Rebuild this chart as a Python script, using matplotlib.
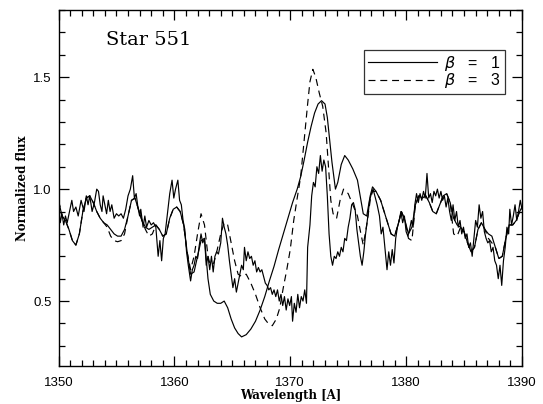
import matplotlib
matplotlib.use("Agg")
import matplotlib.pyplot as plt
from matplotlib.ticker import MultipleLocator

# --- dati ---
# spettro osservato (rumoroso)
obs_wave = [1350.0, 1350.15, 1350.3, 1350.45, 1350.6, 1350.75, 1350.95, 1351.15, 1351.3, 1351.5,
            1351.7, 1351.95, 1352.2, 1352.4, 1352.55, 1352.7, 1352.9, 1353.1, 1353.3, 1353.45,
            1353.6, 1353.75, 1353.85, 1354.0, 1354.15, 1354.3, 1354.45, 1354.6, 1354.8, 1355.0,
            1355.2, 1355.4, 1355.6, 1355.8, 1356.0, 1356.2, 1356.4, 1356.55, 1356.7, 1356.85,
            1357.0, 1357.1, 1357.3, 1357.45, 1357.6, 1357.8, 1358.0, 1358.2, 1358.4, 1358.6,
            1358.75, 1358.9, 1359.05, 1359.2, 1359.4, 1359.6, 1359.8, 1359.95, 1360.1, 1360.3,
            1360.45, 1360.6, 1360.75, 1360.9, 1361.05, 1361.2, 1361.4, 1361.55, 1361.7, 1361.85,
            1362.0, 1362.15, 1362.3, 1362.45, 1362.6, 1362.75, 1362.9, 1363.05, 1363.2, 1363.35,
            1363.5, 1363.65, 1363.8, 1364.0, 1364.15, 1364.3, 1364.45, 1364.6, 1364.75, 1364.9,
            1365.05, 1365.2, 1365.35, 1365.5, 1365.65, 1365.8, 1365.95, 1366.05, 1366.2, 1366.35,
            1366.5, 1366.65, 1366.8, 1366.95, 1367.1, 1367.25, 1367.4, 1367.55, 1367.7, 1367.85,
            1368.0, 1368.15, 1368.3, 1368.45, 1368.6, 1368.75, 1368.9, 1369.05, 1369.2, 1369.35,
            1369.5, 1369.65, 1369.8, 1369.95, 1370.1, 1370.2, 1370.35, 1370.5, 1370.65, 1370.8,
            1370.95, 1371.1, 1371.25, 1371.4, 1371.5, 1371.7, 1371.85, 1372.0, 1372.15, 1372.3,
            1372.45, 1372.6, 1372.75, 1372.9, 1373.05, 1373.2, 1373.35, 1373.5, 1373.65, 1373.8,
            1373.95, 1374.1, 1374.25, 1374.4, 1374.55, 1374.7, 1374.85, 1375.0, 1375.15, 1375.3,
            1375.45, 1375.6, 1375.75, 1375.9, 1376.05, 1376.2, 1376.35, 1376.5, 1376.7, 1376.85,
            1377.0, 1377.15, 1377.3, 1377.5, 1377.7, 1377.85, 1378.0, 1378.2, 1378.35, 1378.5,
            1378.65, 1378.8, 1378.95, 1379.1, 1379.25, 1379.4, 1379.55, 1379.7, 1379.85, 1380.0,
            1380.15, 1380.3, 1380.45, 1380.6, 1380.75, 1380.9, 1381.05, 1381.2, 1381.35, 1381.5,
            1381.65, 1381.8, 1381.95, 1382.1, 1382.25, 1382.4, 1382.55, 1382.7, 1382.85, 1383.0,
            1383.15, 1383.3, 1383.45, 1383.6, 1383.75, 1383.9, 1384.05, 1384.2, 1384.35, 1384.5,
            1384.65, 1384.8, 1384.95, 1385.1, 1385.25, 1385.4, 1385.55, 1385.7, 1385.85, 1386.0,
            1386.15, 1386.3, 1386.45, 1386.6, 1386.75, 1386.9, 1387.05, 1387.2, 1387.35, 1387.5,
            1387.65, 1387.8, 1387.95, 1388.1, 1388.25, 1388.4, 1388.55, 1388.7, 1388.85, 1388.95,
            1389.1, 1389.25, 1389.4, 1389.55, 1389.7, 1389.85, 1390.0]
obs_flux = [0.94, 0.85, 0.89, 0.84, 0.88, 0.85, 0.90, 0.95, 0.90, 0.92,
            0.88, 0.95, 0.90, 0.97, 0.93, 0.97, 0.90, 0.94, 1.00, 0.99,
            0.93, 0.90, 0.97, 0.93, 0.89, 0.95, 0.90, 0.93, 0.87, 0.89,
            0.88, 0.89, 0.87, 0.91, 0.97, 1.00, 1.06, 0.96, 0.98, 0.92,
            0.88, 0.91, 0.83, 0.88, 0.83, 0.86, 0.84, 0.85, 0.83, 0.70,
            0.77, 0.68, 0.78, 0.80, 0.89, 0.98, 1.04, 0.96, 1.00, 1.04,
            0.95, 0.93, 0.86, 0.82, 0.72, 0.66, 0.59, 0.64, 0.66, 0.70,
            0.69, 0.75, 0.80, 0.76, 0.78, 0.66, 0.70, 0.64, 0.70, 0.63,
            0.70, 0.72, 0.71, 0.76, 0.87, 0.83, 0.80, 0.75, 0.68, 0.62,
            0.56, 0.60, 0.54, 0.58, 0.62, 0.66, 0.64, 0.74, 0.68, 0.72,
            0.69, 0.70, 0.66, 0.68, 0.63, 0.65, 0.63, 0.64, 0.61, 0.58,
            0.57, 0.55, 0.56, 0.53, 0.55, 0.52, 0.55, 0.50, 0.53, 0.48,
            0.52, 0.46, 0.51, 0.48, 0.52, 0.41, 0.49, 0.45, 0.53, 0.47,
            0.52, 0.50, 0.55, 0.49, 0.74, 0.84, 0.97, 1.03, 1.01, 1.10,
            1.07, 1.15, 1.08, 1.13, 1.10, 0.97, 0.80, 0.70, 0.66, 0.70,
            0.69, 0.72, 0.70, 0.74, 0.72, 0.78, 0.77, 0.83, 0.87, 0.93,
            0.94, 0.91, 0.82, 0.76, 0.70, 0.66, 0.72, 0.80, 0.88, 0.95,
            0.98, 1.00, 0.97, 0.93, 0.88, 0.80, 0.83, 0.72, 0.64, 0.72,
            0.66, 0.73, 0.67, 0.78, 0.83, 0.86, 0.90, 0.85, 0.88, 0.81,
            0.79, 0.82, 0.86, 0.83, 0.93, 0.98, 0.94, 0.98, 0.95, 0.99,
            0.96, 1.07, 0.96, 0.98, 0.94, 0.99, 0.97, 1.00, 0.96, 0.99,
            0.95, 0.97, 0.92, 0.96, 0.90, 0.86, 0.93, 0.86, 0.90, 0.83,
            0.86, 0.80, 0.83, 0.78, 0.80, 0.74, 0.76, 0.70, 0.78, 0.86,
            0.83, 0.93, 0.87, 0.90, 0.81, 0.78, 0.76, 0.77, 0.72, 0.74,
            0.68, 0.66, 0.60, 0.66, 0.57, 0.68, 0.74, 0.83, 0.80, 0.91,
            0.84, 0.88, 0.93, 0.86, 0.90, 0.95, 0.91]

# modello beta = 1 (linea continua)
b1_wave = [1350.0, 1350.3, 1350.6, 1350.9, 1351.2, 1351.5, 1351.8, 1352.1, 1352.4, 1352.7,
           1353.0, 1353.3, 1353.6, 1353.9, 1354.2, 1354.5, 1354.8, 1355.1, 1355.4, 1355.7,
           1356.0, 1356.3, 1356.6, 1356.9, 1357.2, 1357.5, 1357.8, 1358.1, 1358.4, 1358.7,
           1359.0, 1359.3, 1359.6, 1359.9, 1360.2, 1360.5, 1360.8, 1361.1, 1361.4, 1361.7,
           1362.0, 1362.3, 1362.6, 1362.9, 1363.1, 1363.4, 1363.7, 1364.0, 1364.3, 1364.6,
           1364.9, 1365.2, 1365.5, 1365.8, 1366.2, 1366.6, 1367.0, 1367.4, 1367.8, 1368.2,
           1368.6, 1369.0, 1369.4, 1369.8, 1370.2, 1370.6, 1370.9, 1371.2, 1371.5, 1371.8,
           1372.1, 1372.4, 1372.7, 1373.0, 1373.2, 1373.4, 1373.6, 1373.9, 1374.1, 1374.4,
           1374.7, 1375.0, 1375.4, 1375.8, 1376.1, 1376.3, 1376.6, 1376.9, 1377.1, 1377.4,
           1377.8, 1378.1, 1378.4, 1378.7, 1379.0, 1379.3, 1379.6, 1379.9, 1380.2, 1380.5,
           1380.8, 1381.1, 1381.4, 1381.7, 1382.0, 1382.3, 1382.6, 1382.9, 1383.2, 1383.5,
           1383.8, 1384.1, 1384.4, 1384.7, 1385.0, 1385.3, 1385.6, 1385.9, 1386.2, 1386.5,
           1386.8, 1387.1, 1387.4, 1387.7, 1388.0, 1388.3, 1388.6, 1388.9, 1389.2, 1389.5,
           1389.8, 1390.0]
b1_flux = [0.95, 0.88, 0.86, 0.82, 0.77, 0.75, 0.80, 0.90, 0.96, 0.97,
           0.94, 0.90, 0.87, 0.85, 0.84, 0.82, 0.80, 0.79, 0.79, 0.82,
           0.88, 0.95, 0.96, 0.91, 0.86, 0.83, 0.82, 0.83, 0.84, 0.82,
           0.79, 0.80, 0.87, 0.91, 0.92, 0.90, 0.84, 0.72, 0.62, 0.63,
           0.70, 0.77, 0.78, 0.60, 0.53, 0.50, 0.49, 0.49, 0.50, 0.47,
           0.42, 0.38, 0.355, 0.34, 0.35, 0.375, 0.41, 0.46, 0.52, 0.59,
           0.655, 0.73, 0.80, 0.87, 0.94, 1.00, 1.056, 1.13, 1.21, 1.28,
           1.34, 1.38, 1.395, 1.38, 1.32, 1.22, 1.12, 1.00, 1.03, 1.11,
           1.15, 1.13, 1.09, 1.04, 0.95, 0.89, 0.88, 0.97, 1.01, 0.99,
           0.95, 0.90, 0.85, 0.80, 0.79, 0.84, 0.90, 0.86, 0.80, 0.83,
           0.93, 0.97, 0.96, 0.97, 0.94, 0.90, 0.89, 0.93, 0.97, 0.98,
           0.94, 0.87, 0.84, 0.83, 0.81, 0.76, 0.72, 0.74, 0.82, 0.85,
           0.82, 0.80, 0.79, 0.74, 0.69, 0.70, 0.78, 0.84, 0.84, 0.86,
           0.90, 0.92]

# modello beta = 3 (linea tratteggiata)
b3_wave = [1350.0, 1350.3, 1350.6, 1350.9, 1351.2, 1351.5, 1351.8, 1352.1, 1352.4, 1352.7,
           1353.0, 1353.3, 1353.6, 1353.9, 1354.2, 1354.5, 1354.8, 1355.1, 1355.4, 1355.7,
           1356.0, 1356.3, 1356.6, 1356.9, 1357.2, 1357.5, 1357.8, 1358.1, 1358.4, 1358.7,
           1359.0, 1359.3, 1359.6, 1359.9, 1360.2, 1360.5, 1360.8, 1361.1, 1361.4, 1361.7,
           1362.0, 1362.3, 1362.6, 1362.9, 1363.1, 1363.4, 1363.7, 1364.0, 1364.3, 1364.6,
           1364.9, 1365.2, 1365.5, 1365.8, 1366.2, 1366.6, 1367.0, 1367.4, 1367.8, 1368.1,
           1368.45, 1368.8, 1369.1, 1369.4, 1369.7, 1370.0, 1370.3, 1370.6, 1370.9, 1371.2,
           1371.5, 1371.7, 1371.95, 1372.2, 1372.5, 1372.8, 1373.1, 1373.3, 1373.5, 1373.7,
           1374.0, 1374.3, 1374.6, 1375.0, 1375.4, 1375.8, 1376.1, 1376.3, 1376.6, 1376.9,
           1377.1, 1377.4, 1377.8, 1378.1, 1378.4, 1378.7, 1379.0, 1379.3, 1379.6, 1379.9,
           1380.2, 1380.5, 1380.8, 1381.1, 1381.4, 1381.7, 1382.0, 1382.3, 1382.6, 1382.9,
           1383.2, 1383.5, 1383.8, 1384.1, 1384.4, 1384.7, 1385.0, 1385.3, 1385.6, 1385.9,
           1386.2, 1386.5, 1386.8, 1387.1, 1387.4, 1387.7, 1388.0, 1388.3, 1388.6, 1388.9,
           1389.2, 1389.5, 1389.8, 1390.0]
b3_flux = [0.95, 0.88, 0.86, 0.82, 0.77, 0.75, 0.80, 0.90, 0.96, 0.97,
           0.94, 0.90, 0.87, 0.85, 0.83, 0.79, 0.77, 0.765, 0.77, 0.80,
           0.88, 0.95, 0.96, 0.91, 0.86, 0.82, 0.79, 0.80, 0.84, 0.82,
           0.79, 0.80, 0.87, 0.91, 0.92, 0.90, 0.84, 0.72, 0.64, 0.70,
           0.80, 0.89, 0.84, 0.70, 0.66, 0.67, 0.73, 0.80, 0.85, 0.84,
           0.76, 0.68, 0.62, 0.61, 0.62, 0.58, 0.53, 0.47, 0.42, 0.40,
           0.39, 0.42, 0.47, 0.56, 0.64, 0.73, 0.86, 0.96, 1.056, 1.22,
           1.38, 1.48, 1.535, 1.50, 1.43, 1.37, 1.25, 1.10, 0.95, 0.89,
           0.87, 0.95, 1.00, 0.98, 0.93, 0.88, 0.80, 0.75, 0.84, 0.95,
           0.99, 0.99, 0.95, 0.90, 0.85, 0.80, 0.79, 0.84, 0.90, 0.86,
           0.78, 0.77, 0.93, 0.97, 0.96, 0.97, 0.94, 0.90, 0.89, 0.93,
           0.97, 0.98, 0.94, 0.80, 0.79, 0.83, 0.81, 0.76, 0.72, 0.74,
           0.82, 0.85, 0.82, 0.78, 0.76, 0.74, 0.69, 0.70, 0.78, 0.84,
           0.84, 0.86, 0.90, 0.92]

plt.rcParams["lines.scale_dashes"] = False

fig = plt.figure(figsize=(5.43, 4.04), dpi=100)
ax = fig.add_axes([58.5 / 543, 38 / 404, 463.5 / 543, 356 / 404])

ax.plot(obs_wave, obs_flux, color="black", lw=0.85)
l1, = ax.plot(b1_wave, b1_flux, color="black", lw=0.85)
l3, = ax.plot(b3_wave, b3_flux, color="black", lw=0.85, dashes=(5, 3.5))

ax.set_xlim(1350, 1390)
ax.set_ylim(0.21, 1.8)

ax.xaxis.set_major_locator(MultipleLocator(10))
ax.xaxis.set_minor_locator(MultipleLocator(1))
ax.yaxis.set_major_locator(MultipleLocator(0.5))
ax.yaxis.set_minor_locator(MultipleLocator(0.1))
ax.tick_params(which="both", direction="in", top=True, right=True, width=0.9)
ax.tick_params(which="major", length=7)
ax.tick_params(which="minor", length=4)
ax.tick_params(axis="x", pad=8)
ax.tick_params(axis="y", pad=5)
for lab in ax.get_xticklabels() + ax.get_yticklabels():
    lab.set_family("Liberation Sans")
    lab.set_fontsize(9.5)
for s in ax.spines.values():
    s.set_linewidth(1.0)

ax.set_xlabel("Wavelength [A]", family="DejaVu Serif", fontweight="bold", fontsize=8.5, labelpad=0)
ax.set_ylabel("Normalized flux", family="DejaVu Serif", fontweight="bold", fontsize=8.5, labelpad=3)

ax.text(1354.1, 1.667, "Star 551", family="DejaVu Serif", fontsize=14, va="center", ha="left")

leg = ax.legend([l1, l3], [r"$\beta$   =   1", r"$\beta$   =   3"],
                loc="upper right", bbox_to_anchor=(0.963, 0.888),
                prop={"family": "Liberation Sans", "size": 11.5},
                frameon=True, fancybox=False, edgecolor="black",
                handlelength=4.3, handletextpad=0.5, labelspacing=-0.1,
                borderpad=0.25, borderaxespad=0)
leg.get_frame().set_linewidth(0.9)

plt.savefig("out.png", dpi=100)
